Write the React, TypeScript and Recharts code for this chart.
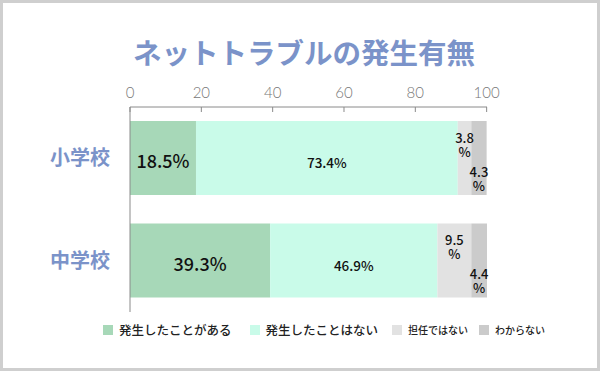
import { BarChart, Bar, XAxis, YAxis, LabelList } from "recharts";

const schools = ["小学校", "中学校"];
const seriesNames = ["発生したことがある", "発生したことはない", "担任ではない", "わからない"];
const occurred = [18.5, 39.3];
const notOccurred = [73.4, 46.9];
const notHomeroom = [3.8, 9.5];
const unknown = [4.3, 4.4];
const xTicks = [0, 20, 40, 60, 80, 100];

const seriesKeys = ["occurred", "notOccurred", "notHomeroom", "unknown"];
const colors = ["#a7d8b8", "#c9fbe9", "#e2e2e2", "#cbcbcb"];
const legendFont = [12.5, 12.5, 10, 10];
const legendGap = [18, 14, 11, 0];

const data = schools.map((name, i) => ({
  name,
  occurred: occurred[i],
  notOccurred: notOccurred[i],
  notHomeroom: notHomeroom[i],
  unknown: unknown[i],
}));

const JP = "'Noto Sans CJK JP', 'Noto Sans', sans-serif";

// label in the middle of a segment
const centerLabel = (size: number, dy: number) => (props: any) => {
  const { x, y, width, height, value } = props;
  return (
    <text
      x={x + width / 2}
      y={y + height / 2 + dy}
      textAnchor="middle"
      dominantBaseline="central"
      fontSize={size}
      fontWeight={500}
      fontFamily={JP}
      fill="#111"
    >
      {value}%
    </text>
  );
};

// narrow segments: value and % on two lines, near top or bottom of the bar
const splitLabel = (atTop: boolean) => (props: any) => {
  const { x, y, width, height, value } = props;
  const cx = x + width / 2;
  const y1 = atTop ? y + 15.5 : y + height - 24.5;
  return (
    <text
      textAnchor="middle"
      dominantBaseline="central"
      fontSize={13}
      fontWeight={500}
      fontFamily={JP}
      fill="#111"
    >
      <tspan x={cx} y={y1}>{value}</tspan>
      <tspan x={cx} y={y1 + 14}>%</tspan>
    </text>
  );
};

const labelers = [centerLabel(18, 2), centerLabel(13.5, 4), splitLabel(true), splitLabel(false)];

export default function App() {
  return (
    <div
      style={{
        position: "absolute",
        left: 0,
        top: 0,
        width: 600,
        height: 371,
        boxSizing: "border-box",
        border: "3px solid #cfcfcf",
        background: "#fff",
      }}
    >
      <div
        style={{
          position: "absolute",
          left: -2,
          top: 33,
          width: 606,
          textAlign: "center",
          fontFamily: JP,
          fontWeight: 700,
          fontSize: 28.5,
          lineHeight: "32px",
          color: "#7b93c9",
        }}
      >
        ネットトラブルの発生有無
      </div>
      <div style={{ position: "absolute", left: -3, top: -3 }}>
        <BarChart
          width={600}
          height={371}
          data={data}
          layout="vertical"
          margin={{ top: 77, right: 113, bottom: 59, left: 10 }}
          barSize={74}
        >
          <XAxis
            type="number"
            orientation="top"
            domain={[0, 100]}
            ticks={xTicks}
            height={30}
            tickSize={-5}
            tickMargin={14}
            stroke="#8a8a8a"
            tick={{ fontSize: 15, fill: "#777", fontFamily: "Lato, sans-serif", fontWeight: 300 }}
          />
          <YAxis
            type="category"
            dataKey="name"
            width={120}
            tickLine={false}
            tickSize={0}
            tickMargin={20}
            stroke="#8a8a8a"
            tick={{ fontSize: 20, fill: "#7b93c9", fontFamily: JP, fontWeight: 700 }}
          />
          {seriesKeys.map((k, i) => (
            <Bar key={k} dataKey={k} stackId="a" fill={colors[i]} isAnimationActive={false}>
              <LabelList dataKey={k} content={labelers[i]} />
            </Bar>
          ))}
        </BarChart>
      </div>
      <div
        style={{
          position: "absolute",
          left: 100,
          top: 319,
          display: "flex",
          alignItems: "center",
          fontFamily: JP,
          color: "#222",
          height: 16,
        }}
      >
        {seriesNames.map((n, i) => (
          <div key={n} style={{ display: "flex", alignItems: "center", marginRight: legendGap[i] }}>
            <span style={{ width: 10, height: 10, background: colors[i], marginRight: 6 }} />
            <span style={{ fontSize: legendFont[i], fontWeight: 500, lineHeight: "16px" }}>{n}</span>
          </div>
        ))}
      </div>
    </div>
  );
}
